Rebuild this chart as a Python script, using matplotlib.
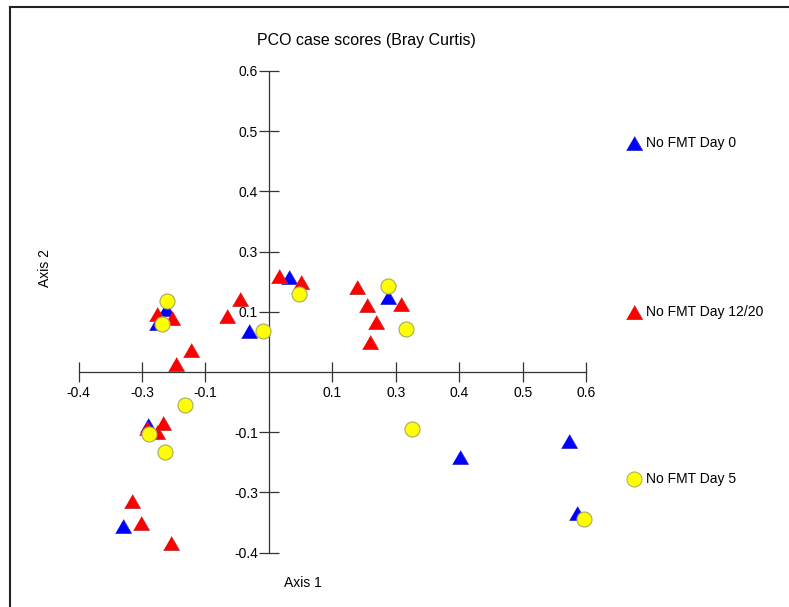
import matplotlib.pyplot as plt
from matplotlib.lines import Line2D

plt.rcParams['font.family'] = ['Liberation Sans', 'DejaVu Sans']

# PCO scores
day0_x = [-0.203, -0.220, 0.039, -0.039, 0.234, -0.238, -0.287, 0.376, 0.591, 0.606]
day0_y = [0.131, 0.102, 0.197, 0.085, 0.156, -0.110, -0.320, -0.176, -0.143, -0.293]

day1220_x = [-0.220, -0.191, -0.057, -0.083, -0.154, -0.183, -0.240, -0.220, -0.209,
             0.020, 0.063, 0.173, 0.193, 0.260, 0.211, 0.199, -0.270, -0.252, -0.193]
day1220_y = [0.120, 0.112, 0.152, 0.116, 0.046, 0.017, -0.116, -0.125, -0.106,
             0.199, 0.187, 0.176, 0.139, 0.141, 0.104, 0.062, -0.268, -0.314, -0.355]

day5_x = [-0.201, -0.211, -0.012, 0.059, 0.234, 0.270, -0.165, -0.236, -0.205, 0.281, 0.620]
day5_y = [0.147, 0.100, 0.085, 0.162, 0.179, 0.089, -0.069, -0.129, -0.166, -0.118, -0.305]

# the original software puts ticks every 0.125 and rounds the labels
tick_vals = [-0.375, -0.25, -0.125, 0.125, 0.25, 0.375, 0.5, 0.625]
tick_labels = ['-0.4', '-0.3', '-0.1', '0.1', '0.3', '0.4', '0.5', '0.6']

tri = [(-1, -0.866), (1, -0.866), (0, 0.866)]

fig = plt.figure(figsize=(7.89, 6.07), dpi=100)
ax = fig.add_axes([0.0834, 0.0539, 0.676, 0.849])
ax.set_xlim(-0.4, 0.65)
ax.set_ylim(-0.42, 0.65)

ax.plot(day0_x, day0_y, linestyle='none', marker=tri, ms=11.5, mfc='#0000ff',
        mec='#3030c0', mew=0.6, clip_on=False, zorder=3)
ax.plot(day1220_x, day1220_y, linestyle='none', marker=tri, ms=11.5, mfc='#ff0000',
        mec='#c03030', mew=0.6, clip_on=False, zorder=3)
ax.plot(day5_x, day5_y, linestyle='none', marker='o', ms=10.8, mfc='#ffff00',
        mec='#a8a860', mew=0.8, clip_on=False, zorder=4)

for s in ['top', 'right']:
    ax.spines[s].set_visible(False)
ax.spines['left'].set_position('zero')
ax.spines['bottom'].set_position('zero')
ax.spines['left'].set_bounds(-0.375, 0.625)
ax.spines['bottom'].set_bounds(-0.375, 0.625)
for s in ['left', 'bottom']:
    ax.spines[s].set_color('#333333')
    ax.spines[s].set_linewidth(0.9)

ax.set_xticks(tick_vals)
ax.set_xticklabels(tick_labels)
ax.set_yticks(tick_vals)
ax.set_yticklabels(tick_labels)
ax.tick_params(direction='inout', length=14, width=0.9, color='#333333',
               labelsize=10, pad=1)
ax.tick_params(axis='x', pad=3)
ax.patch.set_visible(False)

fig.text(0.465, 0.934, 'PCO case scores (Bray Curtis)', ha='center', va='center', fontsize=11.5)
fig.text(0.384, 0.040, 'Axis 1', ha='center', va='center', fontsize=10)
fig.text(0.057, 0.558, 'Axis 2', ha='center', va='center', fontsize=10, rotation=90)

# legend drawn by hand, spread down the right side
leg = [('No FMT Day 0', tri, '#0000ff', '#3030c0', 143),
       ('No FMT Day 12/20', tri, '#ff0000', '#c03030', 312),
       ('No FMT Day 5', 'o', '#ffff00', '#a8a860', 479)]
for label, m, fc, ec, py in leg:
    yy = 1 - py / 607
    fig.add_artist(Line2D([634 / 789], [yy], transform=fig.transFigure, marker=m,
                          ms=11.5 if m is tri else 10.8, mfc=fc, mec=ec, mew=0.7,
                          linestyle='none'))
    fig.text(646 / 789, yy, label, ha='left', va='center', fontsize=10)

# frame lines at the top and left edge
fig.add_artist(Line2D([10 / 789, 1], [1 - 7 / 607, 1 - 7 / 607], transform=fig.transFigure,
                      color='#222222', lw=1.5))
fig.add_artist(Line2D([10 / 789, 10 / 789], [0, 1 - 7 / 607], transform=fig.transFigure,
                      color='#222222', lw=1.5))

fig.savefig('out.png', dpi=100)
